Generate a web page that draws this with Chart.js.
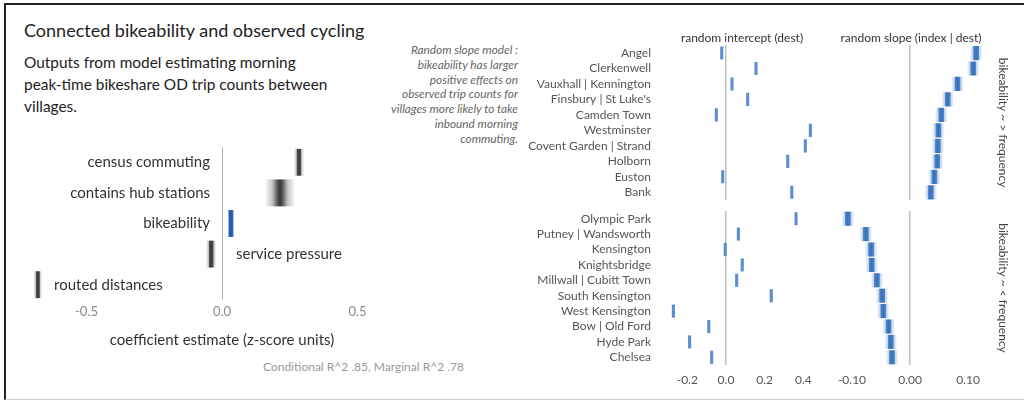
<!DOCTYPE html>
<html>
<head>
<meta charset="utf-8">
<script src="https://cdn.jsdelivr.net/npm/chart.js@4/dist/chart.umd.min.js"></script>
<style>
  html, body { margin: 0; padding: 0; background: #fff; }
  body { width: 1024px; height: 401px; position: relative; overflow: hidden; font-family: Lato, "Open Sans", sans-serif; }
  #frame { position: absolute; left: 4px; top: 3px; width: 1040px; height: 394px; border-left: 2px solid #222; border-top: 2px solid #222; border-bottom: 1px solid #ccc; }
  canvas { position: absolute; }
  #title { position: absolute; left: 24px; top: 19px; font-size: 18px; line-height: 22px; color: #222; white-space: nowrap; }
  #sub { position: absolute; left: 24px; top: 51px; font-size: 15.4px; line-height: 22px; color: #222; white-space: nowrap; }
  #note { position: absolute; right: 506px; top: 43px; font-size: 11.8px; line-height: 14.8px; font-style: italic; color: #666; text-align: right; white-space: nowrap; }
  #r2 { position: absolute; left: 263px; top: 359px; font-size: 12px; line-height: 16px; color: #999; white-space: nowrap; }
</style>
</head>
<body>
<div id="frame"></div>
<div id="title">Connected bikeability and observed cycling</div>
<div id="sub">Outputs from model estimating morning<br>peak-time bikeshare OD trip counts between<br>villages.</div>
<div id="note">Random slope model :<br>bikeability has larger<br>positive effects on<br>observed trip counts for<br>villages more likely to take<br>inbound morning<br>commuting.</div>
<div id="r2">Conditional R^2 .85, Marginal R^2 .78</div>

<canvas id="coef" width="440" height="210" style="left:0px;top:140px"></canvas>
<canvas id="icptMore" width="322" height="199" style="left:500px;top:20px"></canvas>
<canvas id="icptLess" width="322" height="198" style="left:500px;top:192px"></canvas>
<canvas id="slopeMore" width="194" height="180" style="left:820px;top:20px"></canvas>
<canvas id="slopeLess" width="194" height="179" style="left:820px;top:211px"></canvas>

<script>
// fixed effects (left panel)
const coefTerms = ['census commuting', 'contains hub stations', 'bikeability', 'service pressure', 'routed distances'];
const coefEst = [0.284, 0.214, 0.033, -0.040, -0.680];
const coefSE = [0.019, 0.056, 0.010, 0.019, 0.016];
const coefTicks = [-0.5, 0, 0.5];

// random effects, villages where bikeability ~ > frequency
const villagesMore = ['Angel', 'Clerkenwell', 'Vauxhall | Kennington', "Finsbury | St Luke's", 'Camden Town',
  'Westminster', 'Covent Garden | Strand', 'Holborn', 'Euston', 'Bank'];
const interceptMore = [-0.022, 0.155, 0.031, 0.112, -0.050, 0.436, 0.410, 0.319, -0.017, 0.340];
const interceptMoreSE = [0.008, 0.008, 0.008, 0.008, 0.008, 0.008, 0.008, 0.008, 0.008, 0.008];
const slopeMore = [0.114, 0.109, 0.082, 0.065, 0.054, 0.049, 0.048, 0.047, 0.042, 0.036];
const slopeMoreSE = [0.011, 0.011, 0.011, 0.011, 0.011, 0.011, 0.011, 0.011, 0.011, 0.011];

// random effects, villages where bikeability ~ < frequency
const villagesLess = ['Olympic Park', 'Putney | Wandsworth', 'Kensington', 'Knightsbridge', 'Millwall | Cubitt Town',
  'South Kensington', 'West Kensington', 'Bow | Old Ford', 'Hyde Park', 'Chelsea'];
const interceptLess = [0.362, 0.064, -0.004, 0.084, 0.055, 0.234, -0.272, -0.089, -0.188, -0.074];
const interceptLessSE = [0.008, 0.008, 0.008, 0.008, 0.008, 0.008, 0.008, 0.008, 0.008, 0.008];
const slopeLess = [-0.107, -0.076, -0.067, -0.066, -0.057, -0.048, -0.046, -0.037, -0.033, -0.031];
const slopeLessSE = [0.011, 0.011, 0.011, 0.011, 0.011, 0.011, 0.011, 0.011, 0.011, 0.011];

const interceptTicks = [-0.2, 0, 0.2, 0.4];
const slopeTicks = [-0.1, 0, 0.1];

const FONT = 'Lato';
const highlightTerm = 'bikeability';

// dark core at the estimate, fading out to the interval ends
function bandFill(rgbFor) {
  return function (ctx) {
    const chart = ctx.chart;
    const rgb = rgbFor(ctx.dataIndex);
    const c = a => 'rgba(' + rgb + ',' + a + ')';
    if (!chart.chartArea || !ctx.raw) return c(1);
    const x = chart.scales.x;
    const a = x.getPixelForValue(ctx.raw[0]);
    const b = x.getPixelForValue(ctx.raw[1]);
    const w = Math.max(b - a, 1);
    const g = chart.ctx.createLinearGradient(a, 0, b, 0);
    if (w < 8) {
      g.addColorStop(0, c(0.55));
      g.addColorStop(0.25, c(1));
      g.addColorStop(0.75, c(1));
      g.addColorStop(1, c(0.55));
      return g;
    }
    const core = Math.min(0.2, 2.4 / w);
    g.addColorStop(0, c(0));
    g.addColorStop(0.25, c(0.3));
    g.addColorStop(0.5 - core, c(0.85));
    g.addColorStop(0.5, c(1));
    g.addColorStop(0.5 + core, c(0.85));
    g.addColorStop(0.75, c(0.3));
    g.addColorStop(1, c(0));
    return g;
  };
}

function ranges(est, se) {
  return est.map((v, i) => [v - se[i], v + se[i]]);
}

function zeroGrid(width, color) {
  return {
    display: true,
    drawTicks: false,
    lineWidth: width,
    color: c => (c.tick && c.tick.value === 0) ? color : 'rgba(0,0,0,0)'
  };
}

function fixedTicks(list) {
  return s => { s.ticks = list.map(v => ({ value: v })); };
}

// labels of the fixed effects sit next to their mark
const termLabels = {
  id: 'termLabels',
  afterDatasetsDraw(chart) {
    const { ctx, scales: { x, y } } = chart;
    const zero = x.getPixelForValue(0);
    ctx.save();
    ctx.font = '15px ' + FONT;
    ctx.fillStyle = '#333';
    ctx.textBaseline = 'middle';
    coefTerms.forEach((t, i) => {
      const py = y.getPixelForTick(i);
      if (coefEst[i] >= 0) {
        ctx.textAlign = 'right';
        ctx.fillText(t, zero - 12, py);
      } else {
        let px = x.getPixelForValue(coefEst[i] + coefSE[i]) + 12;
        if (px > zero - 20) px = zero + 14;
        ctx.textAlign = 'left';
        ctx.fillText(t, px, py);
      }
    });
    ctx.restore();
  }
};

new Chart(document.getElementById('coef'), {
  type: 'bar',
  data: {
    labels: coefTerms,
    datasets: [{
      data: ranges(coefEst, coefSE),
      backgroundColor: bandFill(i => coefTerms[i] === highlightTerm ? '33,94,176' : '55,55,55'),
      borderWidth: 0,
      categoryPercentage: 1,
      barPercentage: 0.88
    }]
  },
  options: {
    indexAxis: 'y',
    responsive: false,
    animation: false,
    layout: { padding: { left: 30, right: 26, top: 7, bottom: 0 } },
    plugins: { legend: { display: false }, tooltip: { enabled: false } },
    scales: {
      x: {
        type: 'linear', min: -0.7085, max: 0.7085,
        afterBuildTicks: fixedTicks(coefTicks),
        afterFit: s => { s.height = 50; },
        grid: zeroGrid(1, '#b3b3b3'),
        border: { display: false },
        ticks: { padding: 4, color: '#8a8a8a', font: { family: FONT, size: 13 }, callback: v => v.toFixed(1) },
        title: { display: true, text: 'coefficient estimate (z-score units)', color: '#333', font: { family: FONT, size: 15 }, padding: { top: 0, bottom: 1 } }
      },
      y: { display: false }
    }
  },
  plugins: [termLabels]
});

function facetChart(id, labels, est, se, opt) {
  const isIntercept = opt.kind === 'intercept';
  const scales = {
    x: {
      type: 'linear', min: opt.min, max: opt.max,
      position: opt.top ? 'top' : 'bottom',
      afterBuildTicks: fixedTicks(opt.ticks),
      afterFit: s => { s.height = opt.top ? 25.3 : 25; },
      grid: zeroGrid(1.5, '#bdbdbd'),
      border: { display: false },
      ticks: {
        display: !opt.top, padding: 8, color: '#555', font: { family: FONT, size: 12 },
        callback: v => v.toFixed(opt.decimals)
      },
      title: { display: !!opt.top, text: opt.header, color: '#333', font: { family: FONT, size: 12 }, padding: { top: 11, bottom: 0 } }
    }
  };
  // room for the label padding of the village axis, so rows keep their spacing
  const pad = { left: 18, right: 0, top: 0, bottom: 0 };
  if (isIntercept) {
    pad.left = 0;
    if (opt.top) pad.bottom = 19; else pad.top = 19;
    scales.y = {
      position: 'left',
      afterFit: s => { s.width = 162; },
      grid: { display: false, drawTicks: false },
      border: { display: false },
      ticks: { autoSkip: false, padding: 11, color: '#555', font: { family: FONT, size: 12 } }
    };
  } else {
    scales.y = {
      position: 'right',
      afterFit: s => { s.width = 30; },
      grid: { display: false, drawTicks: false },
      border: { display: false },
      ticks: { display: false },
      title: { display: true, text: opt.facet, color: '#444', font: { family: FONT, size: 12 }, padding: { top: 4, bottom: 0 } }
    };
  }
  return new Chart(document.getElementById(id), {
    type: 'bar',
    data: {
      labels: labels,
      datasets: [{
        data: ranges(est, se),
        backgroundColor: isIntercept ? '#5a8dd2' : bandFill(() => '52,112,188'),
        borderWidth: 0,
        categoryPercentage: 1,
        barPercentage: isIntercept ? 0.85 : 0.92
      }]
    },
    options: {
      indexAxis: 'y',
      responsive: false,
      animation: false,
      layout: { padding: pad },
      plugins: { legend: { display: false }, tooltip: { enabled: false } },
      scales: scales
    }
  });
}

facetChart('icptMore', villagesMore, interceptMore, interceptMoreSE,
  { kind: 'intercept', top: true, header: 'random intercept (dest)', min: -0.3307, max: 0.4961, ticks: interceptTicks, decimals: 1 });
facetChart('icptLess', villagesLess, interceptLess, interceptLessSE,
  { kind: 'intercept', top: false, min: -0.3307, max: 0.4961, ticks: interceptTicks, decimals: 1 });
facetChart('slopeMore', villagesMore, slopeMore, slopeMoreSE,
  { kind: 'slope', top: true, header: 'random slope (index | dest)', facet: 'bikeability ~ > frequency', min: -0.1241, max: 0.1276, ticks: slopeTicks, decimals: 2 });
facetChart('slopeLess', villagesLess, slopeLess, slopeLessSE,
  { kind: 'slope', top: false, facet: 'bikeability ~ < frequency', min: -0.1241, max: 0.1276, ticks: slopeTicks, decimals: 2 });
</script>
</body>
</html>
